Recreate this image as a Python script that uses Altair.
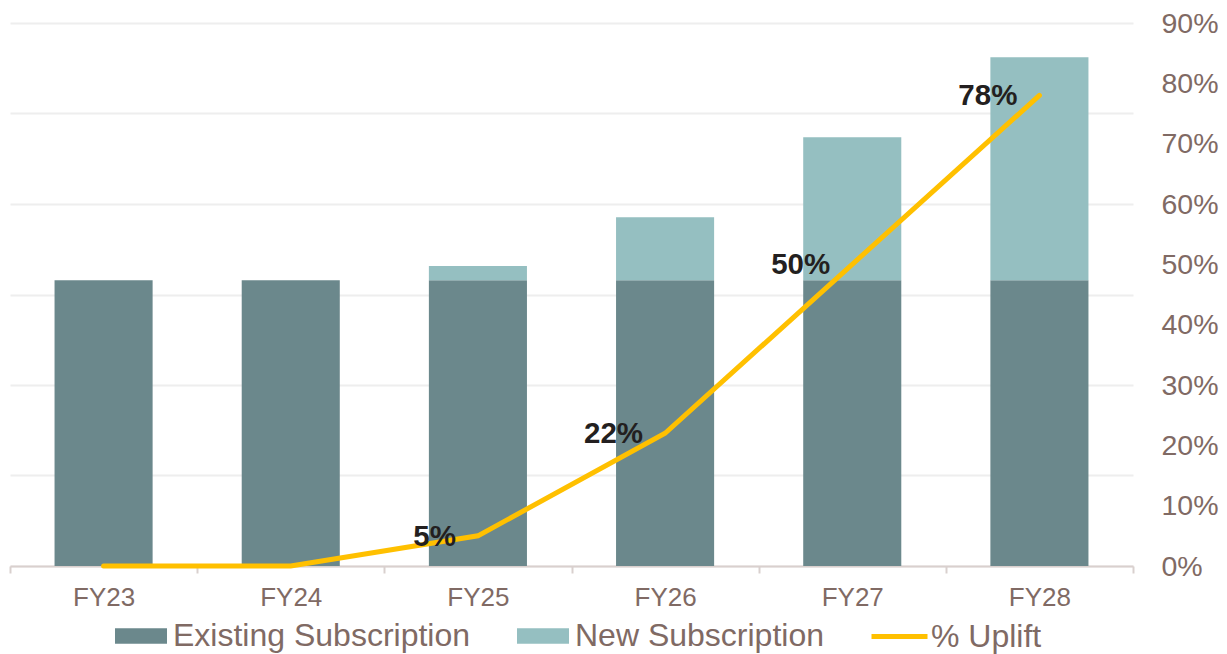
import altair as alt
import pandas as pd

years = ["FY23", "FY24", "FY25", "FY26", "FY27", "FY28"]
existing = [100, 100, 100, 100, 100, 100]
new_sub = [0, 0, 5, 22, 50, 78]
uplift = [0.0, 0.0, 0.05, 0.22, 0.50, 0.78]
uplift_labels = ["", "", "5%", "22%", "50%", "78%"]

bar_series = ["Existing Subscription", "New Subscription"]
bar_colors = ["#6B888C", "#95BFC1"]
line_series = ["% Uplift"]
line_colors = ["#FFC000"]

TXT = "#806A64"
FONT = "Liberation Sans"

bar_rows = []
for i, yr in enumerate(years):
    bar_rows.append({"year": yr, "series": bar_series[0], "value": existing[i], "ord": 0})
    bar_rows.append({"year": yr, "series": bar_series[1], "value": new_sub[i], "ord": 1})
bars_df = pd.DataFrame(bar_rows)
line_df = pd.DataFrame({"year": years, "uplift": uplift, "label": uplift_labels,
                        "series": line_series[0]})

left_max = 190
grid_vals = [left_max * k / 6 for k in range(7)]

x_enc = alt.X(
    "year:N",
    sort=years,
    scale=alt.Scale(paddingInner=0, paddingOuter=0),
    axis=alt.Axis(
        title=None, labelAngle=0, tickBand="extent", tickSize=7, tickWidth=2,
        tickColor="#D9D0CE", domainColor="#D9D0CE", domainWidth=2,
        labelFontSize=26, labelColor=TXT, labelFont=FONT, labelPadding=11, grid=False,
    ),
)

bar_legend = alt.Legend(
    orient="none", legendX=105, legendY=587, direction="horizontal", title=None,
    labelFont=FONT, labelFontSize=32, labelColor=TXT, labelLimit=600,
    symbolSize=2704, symbolType="M-1,-0.3H1V0.3H-1Z", columnPadding=46,
    labelOffset=6, padding=0, symbolStrokeWidth=0, symbolOpacity=1,
)

line_legend = alt.Legend(
    orient="none", legendX=859, legendY=583, direction="horizontal", title=None,
    labelFont=FONT, labelFontSize=32, labelColor=TXT, labelLimit=600,
    symbolSize=3136, symbolType="stroke", symbolStrokeWidth=5,
    labelOffset=1, padding=0, symbolOpacity=1,
)

bars = alt.Chart(bars_df).mark_bar(width=alt.RelativeBandSize(0.524)).encode(
    x=x_enc,
    y=alt.Y(
        "value:Q", stack="zero",
        scale=alt.Scale(domain=[0, left_max], nice=False),
        axis=alt.Axis(values=grid_vals, labels=False, ticks=False, domain=False,
                      grid=True, gridColor="#EEEEEE", gridWidth=2, title=None),
    ),
    color=alt.Color("series:N", scale=alt.Scale(domain=bar_series, range=bar_colors),
                    legend=bar_legend),
    order=alt.Order("ord:Q"),
)

y_right = alt.Y(
    "uplift:Q",
    scale=alt.Scale(domain=[0, 0.9], nice=False),
    axis=alt.Axis(orient="right", format=".0%", values=[i / 10 for i in range(10)],
                  labelFontSize=28.5, labelColor=TXT, labelFont=FONT, labelPadding=28,
                  domain=False, ticks=False, grid=False, title=None),
)

line = alt.Chart(line_df).mark_line(strokeWidth=5, strokeCap="round").encode(
    x=x_enc, y=y_right,
    stroke=alt.Stroke("series:N", scale=alt.Scale(domain=line_series, range=line_colors),
                      legend=line_legend),
)

text = alt.Chart(line_df).transform_filter("datum.label != ''").mark_text(
    align="right", baseline="middle", dx=-22, dy=1, fontSize=29.5, fontWeight="bold",
    color="#231F20", font=FONT,
).encode(x=x_enc, y=y_right, text="label:N")

chart = alt.layer(bars, alt.layer(line, text)).resolve_scale(y="independent").properties(
    width=1123, height=543,
    padding={"left": 2, "top": 15, "right": 86, "bottom": 88},
    autosize=alt.AutoSizeParams(type="none"),
).configure(font=FONT).configure_view(stroke=None)

chart.save("out.html", embed_options={"renderer": "svg", "actions": False})
